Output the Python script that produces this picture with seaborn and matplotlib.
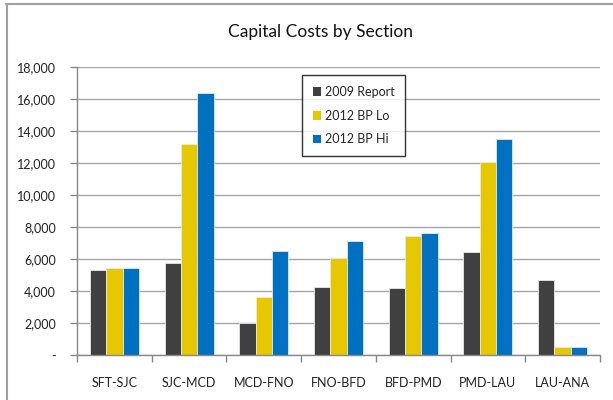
import matplotlib
matplotlib.use("Agg")
import matplotlib.pyplot as plt
import seaborn as sns
import pandas as pd
from matplotlib.ticker import FuncFormatter, FixedLocator
from matplotlib.patches import Patch
from matplotlib.lines import Line2D

categories = ["SFT-SJC", "SJC-MCD", "MCD-FNO", "FNO-BFD", "BFD-PMD", "PMD-LAU", "LAU-ANA"]
report_2009 = [5300, 5750, 1980, 4280, 4210, 6420, 4670]
bp_lo_2012 = [5430, 13200, 3630, 6070, 7440, 12040, 470]
bp_hi_2012 = [5430, 16350, 6530, 7100, 7630, 13520, 480]
series_names = ["2009 Report", "2012 BP Lo", "2012 BP Hi"]
colors = ["#404040", "#E6C800", "#0070C0"]
yticks = [0, 2000, 4000, 6000, 8000, 10000, 12000, 14000, 16000, 18000]

rows = []
for name, vals in zip(series_names, [report_2009, bp_lo_2012, bp_hi_2012]):
    for c, v in zip(categories, vals):
        rows.append({"Section": c, "Series": name, "Cost": v})
df = pd.DataFrame(rows)

sns.set_theme(style="white")
plt.rcParams["font.family"] = ["Lato", "DejaVu Sans"]

fig = plt.figure(figsize=(6.13, 4.0), dpi=100)
ax = fig.add_axes([77/613, 1 - 355/400, (600-77)/613, (355-67)/400])

sns.barplot(data=df, x="Section", y="Cost", hue="Series", order=categories,
            hue_order=series_names, palette=colors, width=0.655, gap=0,
            edgecolor="#E8E8E8", linewidth=0.6, ax=ax, legend=False, saturation=1)

ax.set_ylim(0, 18000)
ax.set_xlim(-0.5, len(categories) - 0.5)
ax.yaxis.set_major_locator(FixedLocator(yticks))
ax.yaxis.set_major_formatter(FuncFormatter(lambda v, p: "-" if v == 0 else f"{int(v):,}"))
ax.grid(axis="y", color="#A6A6A6", linewidth=1.0)
ax.set_axisbelow(True)
for s in ["top", "right"]:
    ax.spines[s].set_visible(False)
for s in ["left", "bottom"]:
    ax.spines[s].set_color("#888888")
    ax.spines[s].set_linewidth(1.0)

ax.tick_params(axis="y", which="major", direction="out", length=5, width=1,
               color="#888888", labelsize=9, pad=10, labelcolor="#222222", left=True)
ax.set_xticks(range(len(categories)))
ax.set_xticklabels(categories)
ax.set_xticks([i - 0.5 for i in range(len(categories) + 1)], minor=True)
ax.tick_params(axis="x", which="major", length=0, labelsize=9, pad=16, labelcolor="#222222")
ax.tick_params(axis="x", which="minor", direction="out", length=5, width=1,
               color="#888888", bottom=True)
ax.set_xlabel("")
ax.set_ylabel("")

handles = [Patch(facecolor=c, edgecolor="none") for c in colors]
leg = ax.legend(handles, series_names, loc="upper left", bbox_to_anchor=(0.43, 0.972),
                frameon=True, fancybox=False, edgecolor="#000000", fontsize=9,
                handlelength=0.7, handleheight=0.7, handletextpad=0.3,
                labelspacing=0.95, borderpad=0.85, borderaxespad=0)
leg.get_frame().set_linewidth(1.0)

fig.text(321/613, 1 - 32/400, "Capital Costs by Section", ha="center", va="center",
         fontsize=12.5, color="#111111")

# outer chart frame
fig.add_artist(Line2D([6/613, 1], [1 - 4/400, 1 - 4/400], transform=fig.transFigure,
                      color="#A0A0A0", linewidth=1.5))
fig.add_artist(Line2D([7/613, 7/613], [0, 1 - 4/400], transform=fig.transFigure,
                      color="#A0A0A0", linewidth=1.5))

fig.savefig("out.png", dpi=100)
